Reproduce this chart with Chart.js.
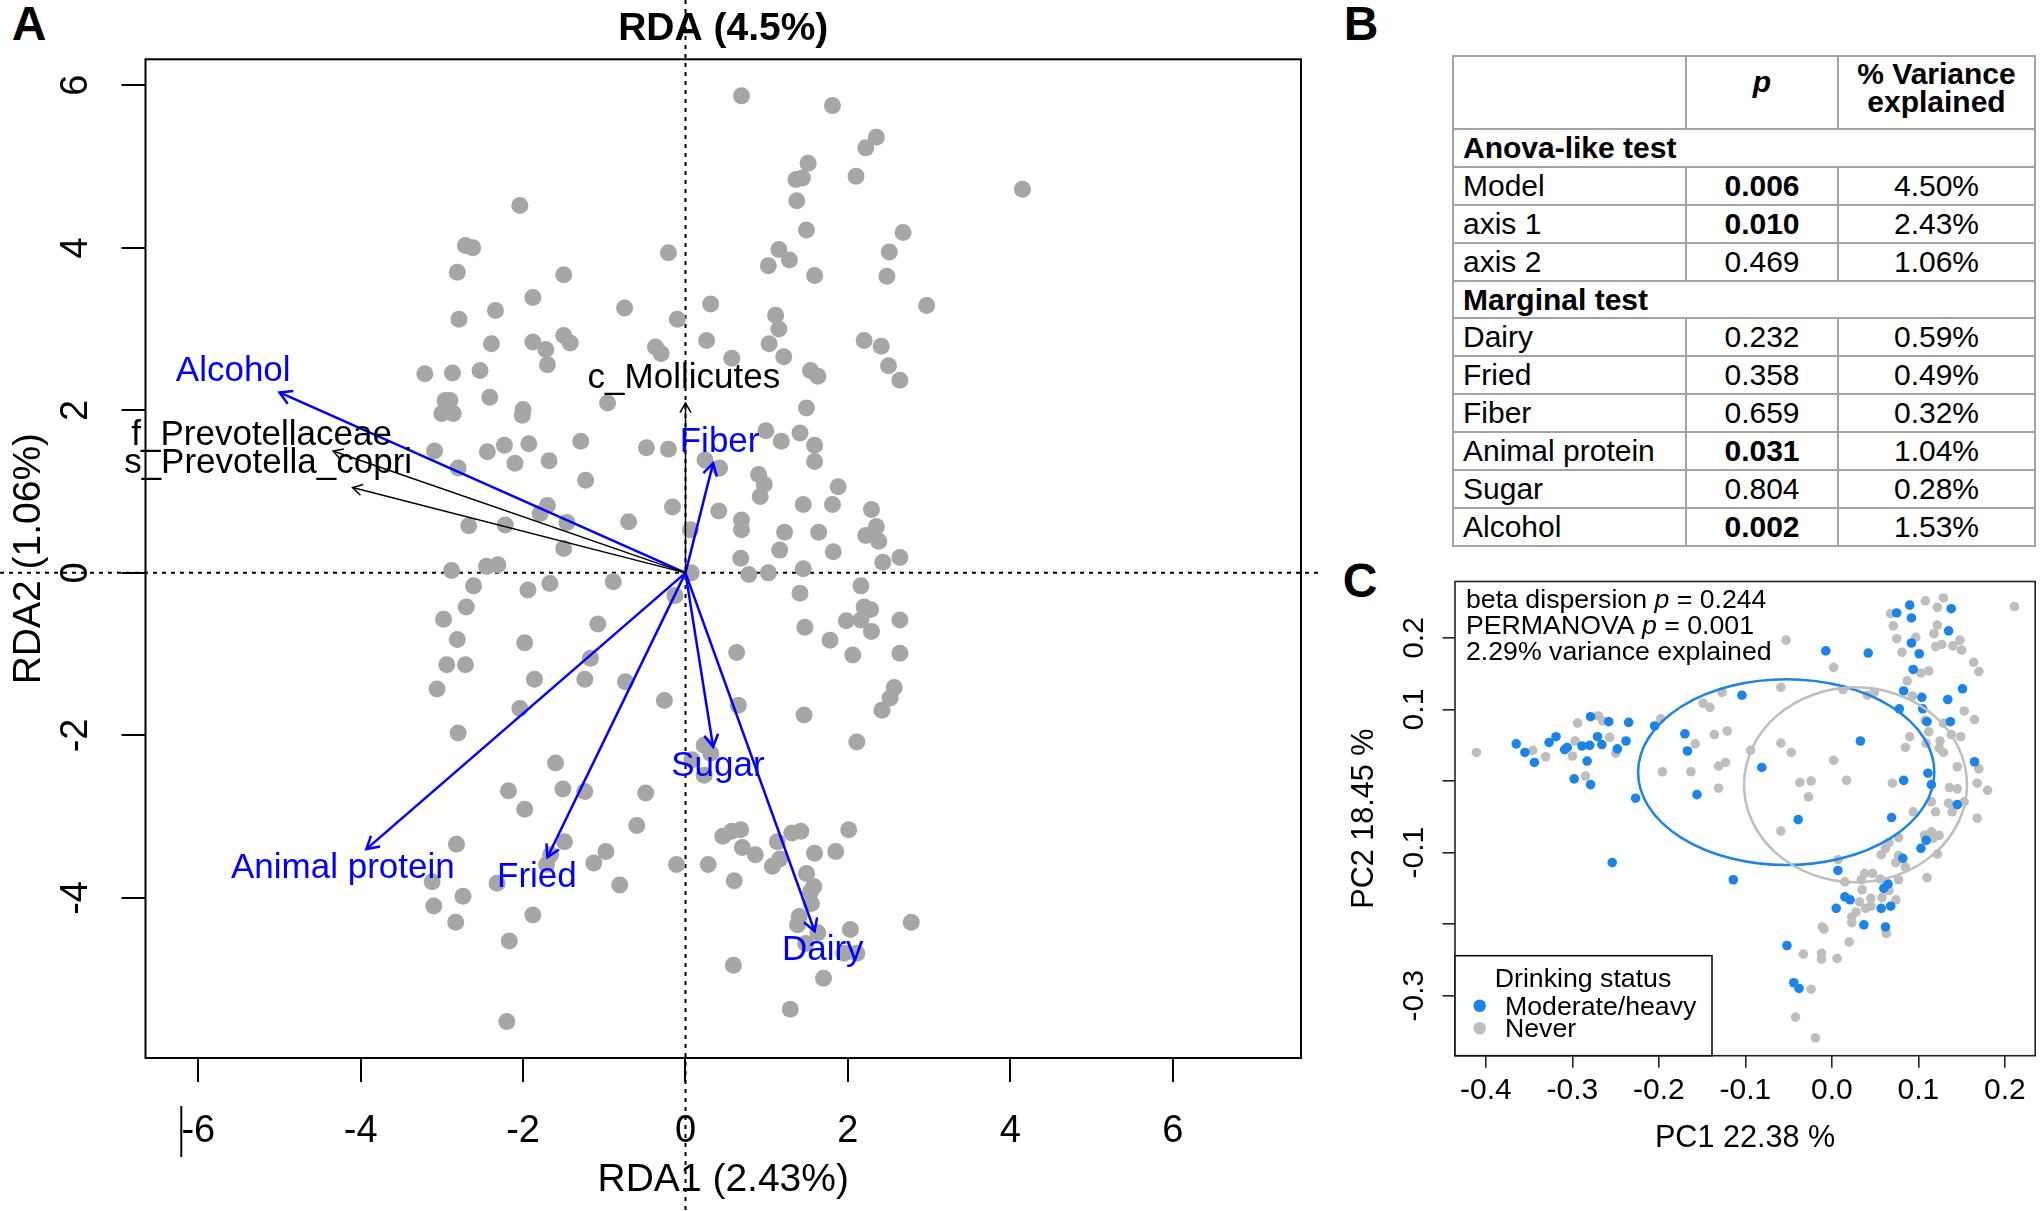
<!DOCTYPE html>
<html>
<head>
<meta charset="utf-8">
<title>RDA and PCoA of drinking status</title>
<script src="https://cdn.jsdelivr.net/npm/chart.js@4.4.1/dist/chart.umd.min.js"></script>
<style>
  html, body { margin: 0; padding: 0; background: #fff; }
  body { width: 2040px; height: 1211px; position: relative; overflow: hidden;
         font-family: "Liberation Sans", Arial, Helvetica, sans-serif; color: #000; }
  .letter { position: absolute; width: 60px; text-align: center; font-weight: bold; font-size: 48px; line-height: 48px; }
  #wrapA { position: absolute; left: 0; top: 0; }
  #wrapC { position: absolute; left: 1340px; top: 560px; }
  #tblB { position: absolute; left: 1452px; top: 55px; width: 584px; border-collapse: collapse;
          table-layout: fixed; font-size: 30px; line-height: 30px; }
  #tblB td { border: 2px solid #a3a3a3; padding: 0 0 0 9px; white-space: nowrap; vertical-align: middle; }
  #tblB td.c { text-align: center; padding: 0; }
  #tblB tr { height: 37.9px; }
  #tblB tr.hd { height: 73px; }
  #tblB tr.hd td { line-height: 28px; }
  #tblB tr.hd td.hp { padding-bottom: 22px; }
  #tblB tr.hd td.hv { padding-bottom: 9px; }
</style>
</head>
<body>
<div class="letter" style="left:-1px;top:0px">A</div>
<div class="letter" style="left:1331px;top:0px">B</div>
<div class="letter" style="left:1330px;top:557px">C</div>

<div id="wrapA"><canvas id="cA" width="1340" height="1211"></canvas></div>
<table id="tblB"></table>
<div id="wrapC"><canvas id="cC" width="700" height="651"></canvas></div>

<script>
// ============================
// PANEL A DATA (RDA biplot)
// ============================
const siteX = [
  0.69,1.81,2.35,2.22,1.51,2.10,1.36,1.44,1.37,1.49,
  2.68,2.51,2.48,1.15,1.28,1.02,1.59,-2.04,-2.71,-2.62,
  -2.81,-1.50,-0.21,-1.88,-2.34,-2.79,-0.75,-0.10,0.31,1.11,
  1.15,2.97,-2.39,-1.88,-1.72,-1.50,-1.42,-1.70,-0.37,-0.30,
  0.26,0.57,1.03,1.21,2.20,2.41,2.50,2.64,1.54,1.63,
  1.49,-3.21,-2.87,-2.53,-2.96,-2.90,-2.41,-0.96,-2.00,-3.00,
  -2.86,-2.01,-3.09,-2.44,-2.23,-1.93,-2.80,-2.10,-1.68,-1.29,
  -1.23,-0.48,-0.21,0.99,1.18,1.41,1.59,1.59,0.24,0.42,
  0.90,0.97,0.92,1.88,1.45,1.81,2.29,-0.16,0.41,0.69,
  0.69,0.06,1.22,1.64,2.22,2.35,2.38,1.16,1.82,0.68,
  2.43,2.64,1.45,0.78,1.02,0.07,-1.79,-1.70,-2.67,-2.22,
  -1.46,-0.70,-1.50,-2.88,-2.45,-2.31,-2.61,-1.94,-1.67,-0.89,
  -0.13,-2.70,-2.98,-2.81,-2.94,-2.71,-3.06,-1.98,-1.08,-1.17,
  -1.86,-1.24,-0.74,-2.04,-2.80,-0.26,0.63,0.65,1.41,2.16,
  2.20,2.28,1.98,2.16,2.64,1.47,2.29,1.78,2.06,2.64,
  2.57,2.52,2.42,1.46,2.11,0.23,0.31,0.08,0.23,-1.60,
  -2.18,-1.51,-1.24,-1.98,-0.49,-0.60,-2.82,-1.49,-1.66,-1.71,
  -0.98,-1.13,-0.11,-2.32,-0.81,-3.12,-2.74,-3.10,-2.83,-1.88,
  -2.17,-2.20,0.28,0.46,0.57,0.68,0.70,0.86,0.60,1.13,
  1.31,1.42,1.16,1.07,2.01,1.59,1.85,1.49,1.58,1.54,
  1.55,1.40,1.38,1.63,2.03,2.78,1.95,2.11,1.48,0.59,
  1.70,1.29,4.15
];
const siteY = [
  5.87,5.75,5.36,5.23,5.04,4.88,4.84,4.86,4.58,4.22,
  4.19,3.95,3.65,3.98,3.85,3.78,3.66,4.52,4.03,4.00,
  3.70,3.67,3.94,3.39,3.23,3.12,3.26,3.12,3.31,3.17,
  3.00,3.29,2.82,2.84,2.75,2.92,2.83,2.56,2.78,2.70,
  2.86,2.64,2.82,2.66,2.86,2.79,2.55,2.37,2.49,2.42,
  2.03,2.45,2.46,2.49,2.12,2.12,2.16,2.09,2.01,1.96,
  1.96,1.94,1.50,1.49,1.57,1.59,1.29,1.35,1.38,1.62,
  1.14,1.54,1.52,1.75,1.62,1.72,1.57,1.37,1.39,1.29,
  1.21,1.09,0.94,1.06,0.84,0.84,0.78,0.81,0.76,0.65,
  0.53,0.53,0.50,0.50,0.46,0.57,0.39,0.28,0.26,0.18,
  0.13,0.19,0.05,-0.02,0.00,0.00,0.73,0.83,0.58,0.59,
  0.62,0.63,0.30,0.03,0.08,0.10,-0.16,-0.21,-0.13,-0.11,
  -0.28,-0.42,-0.57,-0.82,-1.13,-1.13,-1.43,-0.86,-0.63,-1.05,
  -1.31,-1.31,-1.34,-1.67,-1.97,-1.57,-0.98,-1.63,-0.25,-0.16,
  -0.42,-0.45,-0.59,-0.58,-0.58,-0.67,-0.72,-0.83,-1.01,-0.99,
  -1.41,-1.54,-1.69,-1.75,-2.08,-2.12,-2.22,-2.30,-2.49,-2.34,
  -2.68,-2.66,-2.69,-2.91,-2.71,-3.11,-3.34,-3.31,-3.47,-3.59,
  -3.43,-3.57,-3.59,-3.82,-3.84,-3.80,-3.98,-4.10,-4.30,-4.21,
  -4.53,-5.52,-3.59,-3.24,-3.18,-3.16,-3.38,-3.47,-3.79,-3.31,
  -3.20,-3.18,-3.52,-3.61,-3.16,-3.45,-3.43,-3.70,-3.86,-3.92,
  -4.07,-4.23,-4.33,-4.43,-4.39,-4.30,-4.68,-4.68,-4.56,-4.83,
  -4.99,-5.37,4.72
];

// diet variables (blue arrows)
const envNames  = ["Alcohol", "Animal protein", "Fried", "Fiber", "Sugar", "Dairy"];
const envX      = [-5.00, -3.93, -1.70, 0.34, 0.34, 1.59];
const envY      = [ 2.22, -3.40, -3.50, 1.35, -2.14, -4.41];
const envLabelX = [-5.57, -4.22, -1.83, 0.42, 0.40, 1.69];
const envLabelY = [ 2.48, -3.63, -3.75, 1.61, -2.38, -4.64];

// taxa (black arrows)
const taxaNames  = ["f_Prevotellaceae", "s_Prevotella_copri", "c_Mollicutes"];
const taxaX      = [-4.34, -4.10, 0.00];
const taxaY      = [ 1.50,  1.05, 2.09];
const taxaLabelX = [-5.22, -5.14, -0.02];
const taxaLabelY = [ 1.69,  1.35, 2.39];

const rdaXTicks = [-6, -4, -2, 0, 2, 4, 6];
const rdaYTicks = [-4, -2, 0, 2, 4, 6];

// ============================
// PANEL B DATA (table)
// ============================
const tblRows  = ["Model", "axis 1", "axis 2", "Dairy", "Fried", "Fiber", "Animal protein", "Sugar", "Alcohol"];
const tblP     = ["0.006", "0.010", "0.469", "0.232", "0.358", "0.659", "0.031", "0.804", "0.002"];
const tblVar   = ["4.50%", "2.43%", "1.06%", "0.59%", "0.49%", "0.32%", "1.04%", "0.28%", "1.53%"];
const tblSections = ["Anova-like test", "Marginal test"];
const tblSectionStart = [0, 3];

// ============================
// PANEL C DATA (PCoA by drinking status)
// ============================
const heavyX = [
  -0.365,-0.355,-0.344,-0.327,-0.319,-0.309,-0.306,-0.289,-0.280,-0.279,
  -0.258,-0.271,-0.266,-0.248,-0.238,-0.235,-0.283,-0.298,-0.279,-0.205,
  -0.227,-0.254,-0.170,-0.167,-0.156,-0.104,-0.114,-0.007,0.042,0.090,
  0.075,0.092,0.138,0.135,0.092,0.101,0.094,0.151,0.083,0.104,
  0.134,0.078,0.105,0.110,0.137,0.033,-0.081,0.165,0.111,0.083,
  0.115,0.145,-0.039,0.069,0.103,0.109,0.082,0.007,0.065,0.060,
  0.015,0.021,0.005,0.057,0.068,0.037,0.062,-0.052,-0.044,-0.038
];
const heavyY = [
  0.052,0.040,0.026,0.054,0.062,0.044,0.047,0.049,0.050,0.090,
  0.083,0.062,0.051,0.045,0.056,0.082,0.028,0.003,-0.005,0.077,
  -0.024,-0.114,0.066,0.042,-0.019,0.120,-0.138,0.182,0.179,0.246,
  0.235,0.228,0.241,0.210,0.193,0.178,0.156,0.129,0.126,0.117,
  0.114,0.101,0.101,0.083,0.083,0.056,0.019,0.027,0.011,0.001,
  -0.005,-0.033,-0.054,-0.051,-0.094,-0.083,-0.108,-0.125,-0.144,-0.150,
  -0.162,-0.166,-0.178,-0.178,-0.175,-0.201,-0.204,-0.230,-0.282,-0.290
];
const neverX = [
  -0.411,-0.346,-0.331,-0.300,-0.297,-0.294,-0.270,-0.265,-0.257,-0.250,
  -0.285,-0.198,-0.196,-0.163,-0.158,-0.149,-0.141,-0.127,-0.136,-0.121,
  -0.131,-0.123,-0.131,-0.094,-0.053,0.002,-0.059,0.013,0.041,0.049,
  0.068,0.071,0.075,0.081,0.097,0.108,0.122,0.129,0.122,0.118,
  0.120,0.127,0.140,0.148,0.150,0.164,0.170,0.211,0.103,0.112,
  0.087,0.093,0.153,0.165,0.129,0.108,0.112,0.138,0.149,0.090,
  0.085,0.109,0.125,0.124,0.129,0.145,0.170,0.168,0.180,0.136,
  0.145,-0.059,-0.047,0.002,-0.037,-0.024,0.017,-0.027,0.070,0.135,
  0.153,0.115,0.120,0.094,0.139,0.168,-0.059,0.107,0.115,0.124,
  0.117,0.077,0.066,0.062,0.057,0.122,0.077,0.074,0.085,0.007,
  0.038,0.047,0.034,0.015,0.056,0.077,0.110,0.035,0.066,0.045,
  0.058,0.074,0.032,0.045,0.039,0.028,0.023,0.023,0.063,-0.011,
  -0.009,0.020,-0.033,-0.012,-0.012,0.006,-0.024,-0.042,-0.019
];
const neverY = [
  0.040,0.043,0.034,0.035,0.056,0.081,0.091,0.084,0.061,0.039,
  0.007,0.087,0.013,0.013,0.052,0.109,0.103,0.124,0.065,0.070,
  0.021,0.026,-0.010,0.043,0.197,0.159,0.131,0.128,0.120,0.124,
  0.234,0.217,0.199,0.180,0.201,0.252,0.243,0.256,0.218,0.206,
  0.188,0.191,0.189,0.197,0.183,0.166,0.153,0.244,0.151,0.154,
  0.140,0.119,0.098,0.086,0.081,0.085,0.069,0.065,0.062,0.062,
  0.047,0.053,0.056,0.046,0.040,0.020,0.017,-0.003,-0.013,-0.009,
  -0.011,0.053,0.040,0.029,-0.002,0.000,0.001,-0.022,-0.003,-0.031,
  -0.029,-0.029,-0.043,-0.043,-0.043,-0.052,-0.070,-0.076,-0.071,-0.076,
  -0.080,-0.079,-0.086,-0.094,-0.103,-0.102,-0.104,-0.114,-0.120,-0.110,
  -0.129,-0.129,-0.138,-0.141,-0.137,-0.138,-0.135,-0.152,-0.153,-0.164,
  -0.163,-0.166,-0.169,-0.175,-0.178,-0.183,-0.190,-0.198,-0.213,-0.204,
  -0.207,-0.225,-0.242,-0.241,-0.249,-0.248,-0.291,-0.330,-0.359
];

// group ellipses: [moderate/heavy, never]
const ellCx = [-0.0528, 0.0273];
const ellCy = [ 0.0124, -0.0052];
const ellRx = [ 0.1713, 0.1289];
const ellRy = [ 0.1299, 0.1362];

const pcXTicks = [-0.4, -0.3, -0.2, -0.1, 0.0, 0.1, 0.2];
const pcXLabels = ["-0.4", "-0.3", "-0.2", "-0.1", "0.0", "0.1", "0.2"];
const pcYTicks = [-0.3, -0.2, -0.1, 0.0, 0.1, 0.2];
const pcYLabels = ["-0.3", "", "-0.1", "", "0.1", "0.2"];

const groupNames = ["Moderate/heavy", "Never"];
const groupColors = ["#1a84e8", "#bebebe"];

// ============================
// SHARED SETUP
// ============================
const FONT = '"Liberation Sans", Arial, Helvetica, sans-serif';
Chart.defaults.font.family = FONT;
Chart.defaults.color = '#000';

function arrowHead(ctx, x1, y1, x2, y2, len){
  const t = Math.atan2(y2 - y1, x2 - x1), a = Math.PI / 6;
  ctx.beginPath();
  ctx.moveTo(x2 - len * Math.cos(t - a), y2 - len * Math.sin(t - a));
  ctx.lineTo(x2, y2);
  ctx.lineTo(x2 - len * Math.cos(t + a), y2 - len * Math.sin(t + a));
  ctx.stroke();
}

// ============================
// PANEL A CHART
// ============================
const decorA = {
  id: 'decorA',
  beforeDatasetsDraw(chart){
    const {ctx, chartArea: a, scales: {x, y}} = chart;
    const px = x.getPixelForValue(0), py = y.getPixelForValue(0);
    ctx.save();
    ctx.strokeStyle = '#000'; ctx.lineWidth = 2; ctx.setLineDash([4, 5]);
    ctx.beginPath();
    ctx.moveTo(px, 0); ctx.lineTo(px, chart.height);
    ctx.moveTo(0, py); ctx.lineTo(a.right + 21, py);
    ctx.stroke();
    ctx.restore();
  },
  afterDatasetsDraw(chart){
    const {ctx, scales: {x, y}} = chart;
    const ox = x.getPixelForValue(0), oy = y.getPixelForValue(0);
    ctx.save();
    ctx.strokeStyle = '#000'; ctx.lineWidth = 1.5;
    taxaNames.forEach((n, i) => arrowHead(ctx, ox, oy, x.getPixelForValue(taxaX[i]), y.getPixelForValue(taxaY[i]), 11));
    ctx.strokeStyle = '#0000ff'; ctx.lineWidth = 2.5;
    envNames.forEach((n, i) => arrowHead(ctx, ox, oy, x.getPixelForValue(envX[i]), y.getPixelForValue(envY[i]), 14));
    ctx.font = '35px ' + FONT;
    ctx.textAlign = 'center'; ctx.textBaseline = 'middle';
    ctx.fillStyle = '#000';
    taxaNames.forEach((n, i) => ctx.fillText(n, x.getPixelForValue(taxaLabelX[i]), y.getPixelForValue(taxaLabelY[i])));
    ctx.fillStyle = '#0000ff';
    envNames.forEach((n, i) => ctx.fillText(n, x.getPixelForValue(envLabelX[i]), y.getPixelForValue(envLabelY[i])));
    ctx.restore();
  },
  afterDraw(chart){
    const {ctx, chartArea: a, scales: {x}} = chart;
    ctx.save();
    ctx.strokeStyle = '#000'; ctx.lineWidth = 2;
    ctx.strokeRect(a.left, a.top, a.right - a.left, a.bottom - a.top);
    // stray axis stroke just left of the first x label (present in the source figure)
    const bx = x.getPixelForValue(rdaXTicks[0]) - 17;
    ctx.beginPath(); ctx.moveTo(bx, a.bottom + 48); ctx.lineTo(bx, a.bottom + 99); ctx.stroke();
    ctx.restore();
  }
};

const arrowSets = taxaNames.map((n, i) => ({
  label: n, showLine: true, data: [{x: 0, y: 0}, {x: taxaX[i], y: taxaY[i]}],
  borderColor: '#000', borderWidth: 1.5, pointRadius: 0, order: 0
})).concat(envNames.map((n, i) => ({
  label: n, showLine: true, data: [{x: 0, y: 0}, {x: envX[i], y: envY[i]}],
  borderColor: '#0000ff', borderWidth: 2.5, pointRadius: 0, order: 0
})));

new Chart(document.getElementById('cA'), {
  type: 'scatter',
  data: {
    datasets: arrowSets.concat([{
      label: 'samples',
      data: siteX.map((v, i) => ({x: v, y: siteY[i]})),
      backgroundColor: '#a6a6a6', borderWidth: 0, pointRadius: 8.5, order: 1
    }])
  },
  options: {
    responsive: false, animation: false,
    layout: { padding: { left: 0, right: 39, top: 0, bottom: 0 } },
    plugins: {
      legend: { display: false }, tooltip: { enabled: false },
      title: { display: true, text: 'RDA (4.5%)', fullSize: false, color: '#000',
               font: { size: 39, weight: 'bold' }, padding: { top: 5.6, bottom: 6.9 } }
    },
    scales: {
      x: {
        type: 'linear', min: -6.65, max: 7.58,
        afterBuildTicks: s => { s.ticks = rdaXTicks.map(v => ({value: v})); },
        afterFit: s => { s.height = 153; },
        grid: { drawOnChartArea: false, drawTicks: true, tickLength: 24, color: '#000', lineWidth: 2 },
        border: { display: false },
        ticks: { color: '#000', font: { size: 38 }, padding: 26.4, maxRotation: 0, autoSkip: false, callback: v => String(v) },
        title: { display: true, text: 'RDA1 (2.43%)', color: '#000', font: { size: 39 }, padding: { top: 0, bottom: 7.6 } }
      },
      y: {
        type: 'linear', min: -5.97, max: 6.32,
        afterBuildTicks: s => { s.ticks = rdaYTicks.map(v => ({value: v})); },
        afterFit: s => { s.width = 145.5; },
        grid: { drawOnChartArea: false, drawTicks: true, tickLength: 24, color: '#000', lineWidth: 2 },
        border: { display: false },
        ticks: { color: '#000', font: { size: 38 }, padding: 28.3, minRotation: 90, maxRotation: 90,
                 crossAlign: 'center', autoSkip: false, callback: v => String(v) },
        title: { display: true, text: 'RDA2 (1.06%)', color: '#000', font: { size: 39 }, padding: { top: 6.2, bottom: 0 } }
      }
    }
  },
  plugins: [decorA]
});

// ============================
// PANEL B TABLE
// ============================
(function buildTable(){
  let html = '<colgroup><col style="width:233px"><col style="width:152px"><col style="width:197px"></colgroup>';
  html += '<tr class="hd"><td></td><td class="c hp"><b><i>p</i></b></td><td class="c hv"><b>% Variance<br>explained</b></td></tr>';
  tblRows.forEach((r, i) => {
    const s = tblSectionStart.indexOf(i);
    if (s >= 0) html += `<tr><td colspan="3"><b>${tblSections[s]}</b></td></tr>`;
    const p = parseFloat(tblP[i]) < 0.05 ? `<b>${tblP[i]}</b>` : tblP[i];
    html += `<tr><td>${r}</td><td class="c">${p}</td><td class="c">${tblVar[i]}</td></tr>`;
  });
  document.getElementById('tblB').innerHTML = html;
})();

// ============================
// PANEL C CHART
// ============================
const decorC = {
  id: 'decorC',
  afterDatasetsDraw(chart){
    const {ctx, scales: {x, y}} = chart;
    ctx.save();
    ctx.lineWidth = 2.5;
    ellCx.forEach((c, i) => {
      const cx = x.getPixelForValue(c), cy = y.getPixelForValue(ellCy[i]);
      const rx = Math.abs(x.getPixelForValue(c + ellRx[i]) - cx);
      const ry = Math.abs(y.getPixelForValue(ellCy[i] + ellRy[i]) - cy);
      ctx.strokeStyle = groupColors[i];
      ctx.beginPath(); ctx.ellipse(cx, cy, rx, ry, 0, 0, Math.PI * 2); ctx.stroke();
    });
    ctx.restore();
  },
  afterDraw(chart){
    const {ctx, chartArea: a} = chart;
    ctx.save();
    ctx.strokeStyle = '#222'; ctx.lineWidth = 1.6;
    ctx.strokeRect(a.left, a.top, a.right - a.left, a.bottom - a.top);

    // statistics text
    const f = '26.7px ' + FONT, fi = 'italic 26.7px ' + FONT;
    ctx.fillStyle = '#000'; ctx.textBaseline = 'middle'; ctx.textAlign = 'left';
    const runs = [
      [["beta dispersion ", f], ["p", fi], [" = 0.244", f]],
      [["PERMANOVA ", f], ["p", fi], [" = 0.001", f]],
      [["2.29% variance explained", f]]
    ];
    runs.forEach((line, k) => {
      let tx = a.left + 11; const ty = a.top + 19.5 + k * 25.7;
      line.forEach(([t, ft]) => { ctx.font = ft; ctx.fillText(t, tx, ty); tx += ctx.measureText(t).width; });
    });

    // legend
    const lx = a.left, ly = a.bottom - 100, lw = 257;
    ctx.fillStyle = '#fff'; ctx.fillRect(lx, ly, lw, a.bottom - ly);
    ctx.strokeStyle = '#111'; ctx.lineWidth = 1.6;
    ctx.strokeRect(lx, ly, lw, a.bottom - ly);
    ctx.fillStyle = '#000'; ctx.font = f; ctx.textAlign = 'center';
    ctx.fillText('Drinking status', lx + 128, ly + 24);
    ctx.textAlign = 'left';
    groupNames.forEach((g, i) => {
      const yy = ly + 50 + i * 22.5;
      ctx.fillStyle = groupColors[i];
      ctx.beginPath(); ctx.arc(lx + 24.7, yy, 6.3, 0, Math.PI * 2); ctx.fill();
      ctx.fillStyle = '#000';
      ctx.fillText(g, lx + 50, yy + 1.5);
    });
    ctx.restore();
  }
};

new Chart(document.getElementById('cC'), {
  type: 'scatter',
  data: {
    datasets: [
      { label: groupNames[0], data: heavyX.map((v, i) => ({x: v, y: heavyY[i]})),
        backgroundColor: groupColors[0], borderWidth: 0, pointRadius: 4.8, order: 0 },
      { label: groupNames[1], data: neverX.map((v, i) => ({x: v, y: neverY[i]})),
        backgroundColor: groupColors[1], borderWidth: 0, pointRadius: 4.8, order: 1 }
    ]
  },
  options: {
    responsive: false, animation: false,
    layout: { padding: { left: 0, right: 4, top: 21.5, bottom: 0 } },
    plugins: { legend: { display: false }, tooltip: { enabled: false }, title: { display: false } },
    scales: {
      x: {
        type: 'linear', min: -0.4358, max: 0.2351,
        afterBuildTicks: s => { s.ticks = pcXTicks.map(v => ({value: v})); },
        afterFit: s => { s.height = 155.3; },
        grid: { drawOnChartArea: false, drawTicks: true, tickLength: 12, color: '#222', lineWidth: 1.6 },
        border: { display: false },
        ticks: { color: '#000', font: { size: 30 }, padding: 5, maxRotation: 0, autoSkip: false,
                 callback: (v, i) => pcXLabels[i] },
        title: { display: true, text: 'PC1 22.38 %', color: '#000', font: { size: 30.6 }, padding: { top: 0, bottom: 53.6 } }
      },
      y: {
        type: 'linear', min: -0.384, max: 0.279,
        afterBuildTicks: s => { s.ticks = pcYTicks.map(v => ({value: v})); },
        afterFit: s => { s.width = 115; },
        grid: { drawOnChartArea: false, drawTicks: true, tickLength: 12.5, color: '#222', lineWidth: 1.6 },
        border: { display: false },
        ticks: { color: '#000', font: { size: 30 }, padding: 1.6, minRotation: 90, maxRotation: 90,
                 crossAlign: 'center', autoSkip: false, callback: (v, i) => pcYLabels[i] },
        title: { display: true, text: 'PC2 18.45 %', color: '#000', font: { size: 30.6 }, padding: { top: 6.2, bottom: 0 } }
      }
    }
  },
  plugins: [decorC]
});
</script>
</body>
</html>
